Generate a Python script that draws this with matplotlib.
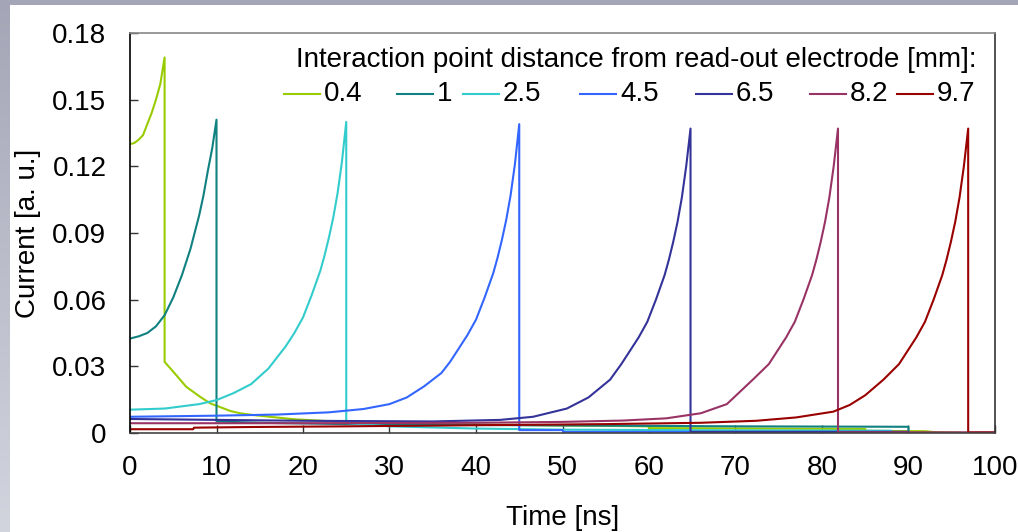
import matplotlib
matplotlib.use("Agg")
import matplotlib.pyplot as plt
import numpy as np
from matplotlib.patches import Rectangle
from matplotlib.lines import Line2D
from matplotlib.colors import LinearSegmentedColormap

plt.rcParams['font.family'] = ['Liberation Sans', 'DejaVu Sans']

# ---- data ----
labels = ["0.4", "1", "2.5", "4.5", "6.5", "8.2", "9.7"]
colors = ["#99cc00", "#108080", "#33cccc", "#3366ff", "#333399", "#993366", "#990000"]
legend_title = "Interaction point distance from read-out electrode [mm]:"

t_04 = [0, 0.5, 1.0, 1.5, 2.0, 2.5, 3.0, 3.5, 4.0, 4.0, 5.0, 6.5, 8.1, 9.25, 11.6, 12.7, 14.2, 18.9, 24, 29, 45, 59.9, 60, 85, 85.1, 92, 93, 96, 96.1, 100]
i_04 = [0.130, 0.1305, 0.132, 0.134, 0.139, 0.144, 0.150, 0.157, 0.169, 0.032, 0.0276, 0.0208, 0.0163, 0.0134, 0.0099, 0.0089, 0.0081, 0.0062, 0.0051, 0.0044, 0.0036, 0.003, 0.0022, 0.0018, 0.001, 0.0008, 0.0004, 0.0002, 0.0, 0.0]

t_1 = [0, 1, 2, 3, 4, 5, 6, 7, 8, 8.5, 9, 9.5, 10, 10, 15, 25, 45, 70, 90, 90, 100]
i_1 = [0.0425, 0.0435, 0.045, 0.048, 0.053, 0.061, 0.071, 0.083, 0.098, 0.107, 0.118, 0.128, 0.141, 0.0052, 0.0046, 0.004, 0.0035, 0.003, 0.0028, 0.0, 0.0]

t_25 = [0, 4, 8, 10, 12, 14, 16, 17, 18, 19, 20, 21, 22, 22.5, 23, 23.5, 24, 24.5, 25, 25, 30, 40, 50, 70, 88, 88.1, 100]
i_25 = [0.0105, 0.011, 0.013, 0.0148, 0.018, 0.022, 0.029, 0.034, 0.039, 0.045, 0.052, 0.062, 0.073, 0.080, 0.088, 0.097, 0.108, 0.122, 0.140, 0.0045, 0.003, 0.002, 0.0015, 0.0012, 0.001, 0.0, 0.0]

t_45 = [0, 10, 17, 23, 27, 30, 32, 34, 36, 37, 38, 39, 40, 41, 42, 42.5, 43, 43.5, 44, 44.5, 45, 45, 50, 50.1, 90, 90.1, 100]
i_45 = [0.0073, 0.0078, 0.0083, 0.0093, 0.0108, 0.013, 0.016, 0.021, 0.027, 0.032, 0.038, 0.044, 0.051, 0.061, 0.072, 0.079, 0.087, 0.096, 0.107, 0.121, 0.139, 0.0013, 0.0013, 0.0005, 0.0005, 0.0, 0.0]

t_65 = [0, 20, 35, 42.8, 46.6, 50.5, 53, 55.5, 56.8, 57.8, 58.8, 59.8, 60.8, 61.8, 62.3, 62.8, 63.3, 63.8, 64.3, 64.8, 64.8, 90, 90.1, 100]
i_65 = [0.0063, 0.0055, 0.0052, 0.0059, 0.0073, 0.011, 0.016, 0.024, 0.031, 0.037, 0.043, 0.050, 0.060, 0.071, 0.078, 0.086, 0.095, 0.106, 0.120, 0.137, 0.0005, 0.0005, 0.0, 0.0]

t_82 = [0, 20, 40, 50, 57, 62, 66, 69, 72, 73.85, 74.85, 75.85, 76.85, 77.85, 78.85, 79.35, 79.85, 80.35, 80.85, 81.35, 81.85, 81.85, 100]
i_82 = [0.0044, 0.0044, 0.0046, 0.005, 0.0056, 0.0066, 0.0089, 0.013, 0.024, 0.031, 0.037, 0.043, 0.050, 0.060, 0.071, 0.078, 0.086, 0.095, 0.106, 0.120, 0.137, 0.0003, 0.0003]

t_97 = [0, 7.3, 7.4, 14, 25, 43, 55, 66, 72.4, 77, 81.3, 83.2, 85, 87.1, 88.9, 89.9, 90.9, 91.9, 92.9, 93.9, 94.4, 94.9, 95.4, 95.9, 96.4, 96.9, 96.9, 100]
i_97 = [0.0017, 0.0017, 0.0024, 0.0027, 0.003, 0.0036, 0.004, 0.0046, 0.0055, 0.007, 0.0096, 0.0126, 0.017, 0.024, 0.031, 0.037, 0.043, 0.050, 0.060, 0.071, 0.078, 0.086, 0.095, 0.106, 0.120, 0.137, 0.0002, 0.0002]

series_t = [t_04, t_1, t_25, t_45, t_65, t_82, t_97]
series_i = [i_04, i_1, i_25, i_45, i_65, i_82, i_97]

x_ticks = [0, 10, 20, 30, 40, 50, 60, 70, 80, 90, 100]
y_ticks = [0, 0.03, 0.06, 0.09, 0.12, 0.15, 0.18]
y_tick_labels = ["0", "0.03", "0.06", "0.09", "0.12", "0.15", "0.18"]

# ---- figure ----
W, H = 1018, 532
fig = plt.figure(figsize=(W / 100, H / 100), dpi=100, facecolor="white")

def px(x, y):
    """pixel (from top-left) -> figure fraction"""
    return x / W, 1 - y / H

# decorative frame: top band and left gradient band
bg = fig.add_axes([0, 0, 10 / W, 1])
grad = np.linspace(0, 1, 256).reshape(-1, 1)
cmap = LinearSegmentedColormap.from_list("g", ["#a4a6b7", "#d2d4de"])
bg.imshow(grad, aspect="auto", cmap=cmap, extent=[0, 1, 0, 1], origin="upper")
bg.set_axis_off()
fig.patches.append(Rectangle((0, 1 - 5 / H), 1, 5 / H, transform=fig.transFigure,
                             facecolor="#a4a6b7", edgecolor="none", zorder=0))

ax = fig.add_axes([130 / W, 1 - 433 / H, (995 - 130) / W, (433 - 33) / H])
for t, i, c, lab in zip(series_t, series_i, colors, labels):
    ax.plot(t, i, color=c, lw=1.5, label=lab)

ax.set_xlim(0, 100)
ax.set_ylim(0, 0.18)
ax.set_xticks(x_ticks)
ax.set_yticks(y_ticks)
ax.set_yticklabels(y_tick_labels)
ax.tick_params(axis="both", direction="in", length=6, width=1, labelsize=20, color="#333333")
ax.tick_params(axis="x", pad=16)
ax.tick_params(axis="y", pad=17)
ax.spines["left"].set_color("black")
ax.spines["bottom"].set_color("#444444")
ax.spines["top"].set_color("#888888")
ax.spines["right"].set_color("#333333")
for s in ax.spines.values():
    s.set_linewidth(1.2)

ax.set_xlabel("Time [ns]", fontsize=20, labelpad=17)
ax.set_ylabel("Current [a. u.]", fontsize=20, labelpad=8)

# legend (title + one row of entries), drawn like the spreadsheet legend
fig.text(*px(976, 60), legend_title, fontsize=20, ha="right", va="center")
text_x = [324, 437, 503, 620, 736, 850, 937]
for tx, c, lab in zip(text_x, colors, labels):
    x0, y0 = px(tx - 40, 94)
    x1, _ = px(tx - 4, 94)
    fig.add_artist(Line2D([x0, x1], [y0, y0], color=c, lw=1.5, transform=fig.transFigure))
    fig.text(*px(tx, 94), lab, fontsize=20, ha="left", va="center")

fig.savefig("out.png", dpi=100, facecolor="white")
